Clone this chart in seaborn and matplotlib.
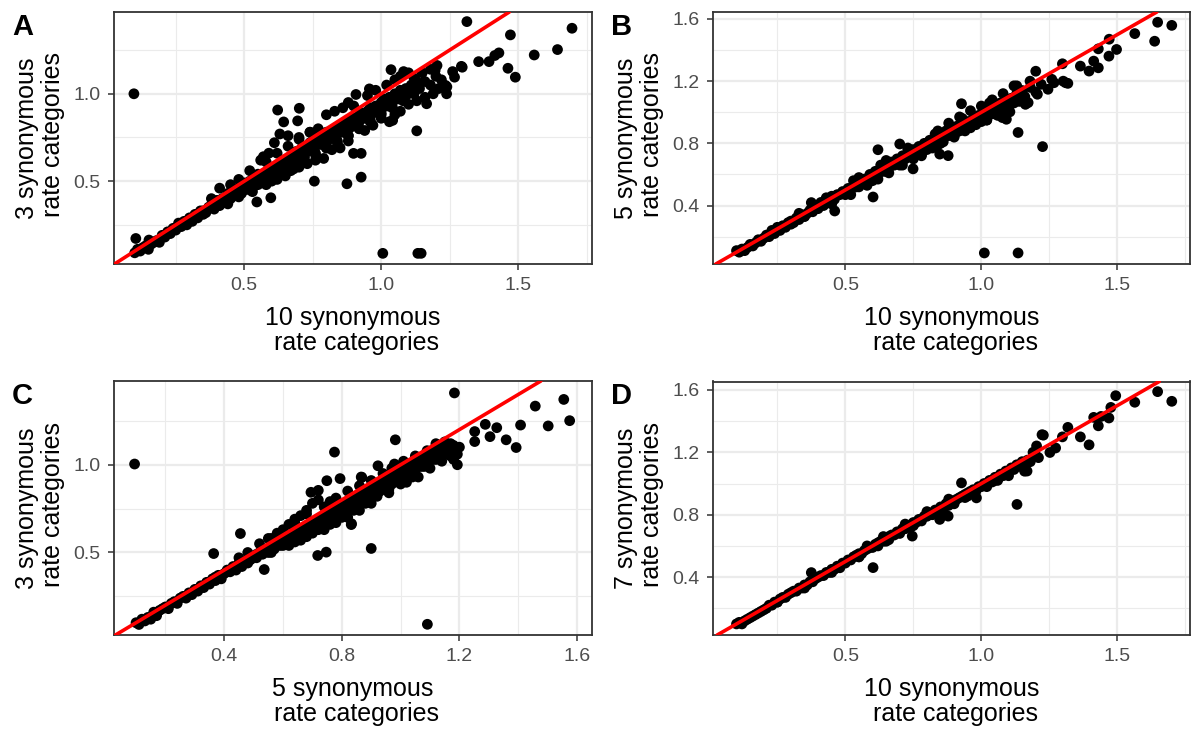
import matplotlib
matplotlib.use("Agg")
import matplotlib.pyplot as plt
import seaborn as sns
import numpy as np
from matplotlib.ticker import MultipleLocator, FormatStrFormatter

# ---------------- data ----------------
# Panel A: x = 10 synonymous rate categories, y = 3 synonymous rate categories
a_band_x = [0.10,0.11,0.12,0.13,0.14,0.15,0.16,0.17,0.18,0.19,
            0.20,0.21,0.22,0.23,0.24,0.25,0.26,0.27,0.28,0.29,
            0.30,0.31,0.32,0.33,0.34,0.35,0.36,0.37,0.38,0.39,
            0.40,0.41,0.42,0.43,0.44,0.45,0.46,0.47,0.48,0.49,
            0.50,0.50,0.51,0.52,0.53,0.54,0.55,0.55,0.56,0.57,
            0.58,0.59,0.60,0.60,0.61,0.62,0.63,0.64,0.64,0.65,
            0.66,0.67,0.68,0.68,0.69,0.70,0.71,0.72,0.72,0.73,
            0.74,0.75,0.76,0.76,0.77,0.78,0.79,0.80,0.80,0.81,
            0.82,0.83,0.84,0.84,0.85,0.86,0.87,0.88,0.88,0.89,
            0.90,0.91,0.92,0.92,0.93,0.94,0.95,0.96,0.96,0.97,
            0.98,0.99,1.00,1.00,1.01,1.02,1.03,1.04,1.05,1.06,
            1.07,1.08,1.09,1.10,1.11,1.12,1.13,1.14,1.16,1.18,
            0.38,0.41,0.45,0.48,0.52,0.56,0.57,0.59,0.61,0.63,
            0.66,0.70,0.74,0.77,0.80,0.83,0.86,0.88,0.90,0.95,
            0.98,1.02,1.05,1.07,1.10,1.12,1.15,1.18,1.20,1.22,
            0.65,0.70,0.73,0.76,0.79,0.82,0.85,0.88,0.94,0.97,
            1.00,1.03,1.05,1.07,1.10,1.13,1.16,1.19,1.21,1.24,
            0.44,0.48,0.53,0.58,0.62,0.67]
a_band_y = [0.09,0.11,0.10,0.12,0.13,0.11,0.14,0.15,0.16,0.15,
            0.19,0.18,0.21,0.20,0.23,0.22,0.26,0.24,0.27,0.25,
            0.29,0.27,0.31,0.29,0.33,0.31,0.32,0.35,0.36,0.34,
            0.39,0.36,0.40,0.38,0.43,0.40,0.44,0.42,0.46,0.43,
            0.49,0.45,0.47,0.50,0.46,0.52,0.48,0.54,0.50,0.53,
            0.55,0.51,0.57,0.53,0.58,0.55,0.60,0.57,0.62,0.59,
            0.63,0.60,0.65,0.61,0.67,0.63,0.69,0.64,0.70,0.67,
            0.72,0.68,0.73,0.70,0.75,0.71,0.76,0.72,0.78,0.74,
            0.79,0.75,0.80,0.77,0.82,0.78,0.84,0.80,0.85,0.81,
            0.86,0.83,0.88,0.84,0.89,0.86,0.90,0.87,0.92,0.89,
            0.93,0.90,0.95,0.91,0.97,0.93,0.98,0.95,1.00,0.97,
            1.02,0.98,1.03,1.00,1.05,1.01,1.06,1.03,1.07,1.05,
            0.40,0.46,0.48,0.51,0.56,0.62,0.64,0.66,0.72,0.77,
            0.76,0.74,0.78,0.80,0.88,0.90,0.92,0.95,0.93,0.99,
            1.02,1.05,1.08,1.10,1.12,1.09,1.12,1.14,1.10,1.08,
            0.53,0.58,0.60,0.62,0.63,0.68,0.69,0.73,0.79,0.82,
            0.86,0.84,0.88,0.90,0.94,0.96,0.98,1.00,1.03,1.04,
            0.37,0.41,0.44,0.48,0.51,0.56]
a_fill_x = [0.35,0.37,0.39,0.41,0.43,0.45,0.47,0.49,0.51,0.53,
            0.55,0.57,0.59,0.61,0.63,0.65,0.67,0.69,0.71,0.73,
            0.75,0.77,0.79,0.81,0.83,0.85,0.87,0.89,0.91,0.93,
            0.95,0.97,0.99,1.01,1.03,1.05,1.07,1.09,1.11,1.13,
            0.52,0.56,0.60,0.64,0.68,0.72,0.76,0.80,0.84,0.88,
            0.92,0.96,1.00,1.04,1.08,1.12,
            0.60,0.64,0.68,0.72,0.76,0.80,0.84,0.88,0.92,0.96,
            1.00,1.04,1.08,0.58,0.62,0.66,0.70,0.74]
a_fill_y = [0.33,0.35,0.37,0.38,0.40,0.42,0.44,0.45,0.48,0.49,
            0.51,0.53,0.55,0.57,0.58,0.61,0.62,0.65,0.66,0.68,
            0.70,0.72,0.74,0.75,0.77,0.79,0.81,0.83,0.85,0.87,
            0.88,0.91,0.93,0.94,0.96,0.99,1.00,1.01,1.04,1.07,
            0.45,0.49,0.52,0.56,0.59,0.62,0.66,0.69,0.73,0.76,
            0.80,0.84,0.88,0.92,0.96,1.00,
            0.50,0.54,0.57,0.61,0.65,0.69,0.72,0.76,0.80,0.85,
            0.89,0.93,0.97,0.61,0.66,0.70,0.75,0.78]
a_out_x = [0.097,1.036,0.622,0.701,0.644,0.695,1.130,0.899,0.927,0.927,
           0.875,0.756,0.597,0.546,1.006,1.134,1.146,0.104,0.152,0.957,
           0.908,1.293,1.313,1.697,1.472,1.559,1.644,1.463,1.490,1.356,
           1.394,1.415,1.430,1.296,1.261,1.268,1.239,1.235,1.204,1.197,
           1.082,1.166,1.042]
a_out_y = [1.000,1.138,0.907,0.917,0.839,0.845,0.788,0.659,0.659,0.523,
           0.485,0.500,0.405,0.381,0.087,0.087,0.087,0.172,0.163,1.028,
           0.996,1.157,1.413,1.375,1.337,1.222,1.253,1.146,1.095,1.184,
           1.184,1.219,1.234,1.152,1.127,1.095,1.000,1.048,1.162,1.133,
           1.127,0.943,0.848]

# Panel B: x = 10 categories, y = 5 categories
b_band_x = [0.10,0.11,0.12,0.13,0.14,0.15,0.16,0.17,0.18,0.19,
            0.20,0.21,0.22,0.23,0.24,0.25,0.26,0.27,0.28,0.29,
            0.30,0.31,0.32,0.33,0.34,0.35,0.36,0.37,0.38,0.39,
            0.40,0.41,0.42,0.43,0.44,0.45,0.46,0.47,0.48,0.49,
            0.50,0.51,0.52,0.53,0.54,0.55,0.56,0.57,0.58,0.59,
            0.60,0.61,0.62,0.63,0.64,0.65,0.66,0.67,0.68,0.69,
            0.70,0.71,0.72,0.73,0.74,0.75,0.76,0.77,0.78,0.79,
            0.80,0.81,0.82,0.83,0.84,0.85,0.86,0.87,0.88,0.89,
            0.90,0.91,0.92,0.93,0.94,0.95,0.96,0.97,0.98,0.99,
            1.00,1.01,1.02,1.03,1.04,1.05,1.06,1.07,1.08,1.09,
            1.10,1.11,1.12,1.13,1.14,1.15,1.16,1.18,1.20,1.22,
            0.45,0.52,0.58,0.62,0.66,0.71,0.75,0.78,0.82,0.86,
            0.90,0.94,0.98,1.02,1.06,1.10,0.55,0.65,0.73,0.84,
            0.88,0.92,0.96,1.00,1.04,1.08,1.12]
b_band_y = [0.11,0.10,0.12,0.11,0.13,0.15,0.14,0.16,0.18,0.17,
            0.19,0.21,0.20,0.24,0.22,0.26,0.24,0.27,0.26,0.29,
            0.30,0.29,0.32,0.31,0.34,0.33,0.35,0.37,0.36,0.40,
            0.39,0.42,0.40,0.44,0.42,0.46,0.44,0.47,0.47,0.49,
            0.48,0.51,0.50,0.53,0.52,0.56,0.54,0.57,0.56,0.60,
            0.58,0.62,0.60,0.64,0.62,0.66,0.64,0.68,0.66,0.70,
            0.68,0.72,0.70,0.74,0.72,0.76,0.74,0.78,0.76,0.80,
            0.78,0.82,0.80,0.84,0.81,0.86,0.83,0.88,0.85,0.90,
            0.87,0.91,0.88,0.93,0.90,0.94,0.92,0.96,0.93,0.98,
            0.96,1.00,0.97,1.02,0.99,1.04,1.01,1.06,1.03,1.07,
            1.04,1.09,1.06,1.12,1.08,1.14,1.10,1.16,1.13,1.18,
            0.41,0.47,0.53,0.57,0.61,0.66,0.70,0.72,0.77,0.81,
            0.85,0.88,0.92,0.95,0.98,1.02,0.58,0.69,0.77,0.88,
            0.93,0.97,1.01,1.04,1.08,1.12,1.17]
b_fill_x = [0.30,0.35,0.40,0.45,0.50,0.55,0.60,0.65,0.70,0.75,
            0.80,0.85,0.90,0.95,1.00,1.05,1.10,1.15,
            0.33,0.43,0.53,0.63,0.73,0.83,0.93,1.03,1.13,
            0.78,0.84,0.90,0.96,1.02,1.08,1.14]
b_fill_y = [0.28,0.33,0.38,0.42,0.47,0.52,0.56,0.62,0.66,0.71,
            0.76,0.80,0.85,0.90,0.94,0.99,1.04,1.09,
            0.35,0.45,0.56,0.66,0.76,0.86,0.96,1.06,1.17,
            0.73,0.79,0.84,0.90,0.95,1.01,1.07]
b_out_x = [1.011,1.135,1.135,1.225,1.200,1.310,0.927,0.602,0.461,0.620,
           0.700,0.847,0.878,0.749,0.375,1.162,1.092,1.648,1.700,1.564,
           1.637,1.497,1.469,1.430,1.413,1.430,1.396,1.364,1.298,1.318,
           1.267,1.245,1.206,1.179,1.259,1.301,1.172,1.105,1.077,1.470]
b_out_y = [0.095,0.095,0.870,0.779,1.264,1.190,1.055,0.455,0.365,0.759,
           0.796,0.731,0.721,0.636,0.419,1.051,0.955,1.579,1.559,1.506,
           1.457,1.404,1.361,1.408,1.329,1.286,1.265,1.297,1.312,1.186,
           1.190,1.148,1.116,1.200,1.212,1.200,1.062,1.003,0.966,1.470]

# Panel C: x = 5 categories, y = 3 categories
c_band_x = [0.10,0.11,0.12,0.13,0.14,0.15,0.16,0.17,0.18,0.19,
            0.20,0.21,0.22,0.23,0.24,0.25,0.26,0.27,0.28,0.29,
            0.30,0.31,0.32,0.33,0.34,0.35,0.36,0.37,0.38,0.39,
            0.40,0.41,0.42,0.43,0.44,0.45,0.46,0.47,0.48,0.49,
            0.50,0.51,0.52,0.53,0.54,0.55,0.56,0.57,0.58,0.59,
            0.60,0.61,0.62,0.63,0.64,0.65,0.66,0.67,0.68,0.69,
            0.70,0.71,0.72,0.73,0.74,0.75,0.76,0.77,0.78,0.79,
            0.80,0.81,0.82,0.83,0.84,0.85,0.86,0.87,0.88,0.89,
            0.90,0.91,0.92,0.93,0.94,0.95,0.96,0.97,0.98,0.99,
            1.00,1.01,1.02,1.03,1.04,1.05,1.06,1.07,1.08,1.09,
            1.10,1.11,1.12,1.13,1.14,1.15,1.16,1.17,1.18,1.19,
            0.55,0.58,0.62,0.64,0.66,0.68,0.70,0.72,0.74,0.76,
            0.78,0.82,0.86,0.90,0.94,0.97,1.01,1.05,1.09,1.12,
            0.62,0.66,0.70,0.74,0.78,0.82,0.86,0.90,0.96,1.02,
            1.06,1.10,1.14,1.18,0.45,0.48,0.52]
c_band_y = [0.10,0.09,0.12,0.11,0.13,0.12,0.16,0.14,0.17,0.18,
            0.19,0.18,0.21,0.22,0.21,0.24,0.25,0.24,0.27,0.26,
            0.29,0.28,0.31,0.30,0.33,0.32,0.35,0.34,0.37,0.35,
            0.38,0.40,0.39,0.42,0.40,0.44,0.42,0.45,0.44,0.47,
            0.48,0.47,0.50,0.49,0.52,0.50,0.53,0.52,0.55,0.54,
            0.57,0.55,0.59,0.57,0.61,0.58,0.63,0.60,0.64,0.62,
            0.67,0.64,0.69,0.66,0.71,0.67,0.73,0.69,0.75,0.71,
            0.77,0.73,0.79,0.75,0.80,0.77,0.82,0.79,0.84,0.81,
            0.86,0.83,0.88,0.85,0.90,0.87,0.92,0.89,0.94,0.91,
            0.96,0.93,0.98,0.95,1.00,0.97,1.02,0.99,1.04,1.01,
            1.06,1.03,1.07,1.05,1.09,1.06,1.10,1.08,1.11,1.07,
            0.58,0.61,0.66,0.69,0.71,0.74,0.78,0.80,0.76,0.79,
            0.81,0.85,0.88,0.91,0.95,0.98,1.02,1.05,1.08,1.12,
            0.54,0.57,0.61,0.63,0.67,0.70,0.74,0.78,0.84,0.90,
            0.93,0.98,1.02,1.03,0.47,0.50,0.55]
c_fill_x = [0.33,0.35,0.37,0.39,0.41,0.43,0.45,0.47,0.49,0.51,
            0.53,0.55,0.57,0.59,0.61,0.63,0.65,0.67,0.69,0.71,
            0.73,0.75,0.77,0.79,0.81,0.83,0.85,0.87,0.89,0.91,
            0.93,0.95,0.97,0.99,1.01,1.03,1.05,1.07,1.09,1.11,
            1.13,1.15,1.17,
            0.56,0.60,0.64,0.68,0.72,0.76,0.80,0.84,0.88,0.92,
            0.96,1.00,1.04,1.08,1.12,1.16,
            0.64,0.68,0.72,0.76,0.80,0.84,0.88,0.92,0.96,1.00,
            1.04,0.56,0.60,0.64,0.68]
c_fill_y = [0.31,0.33,0.36,0.37,0.39,0.41,0.43,0.45,0.46,0.49,
            0.50,0.52,0.55,0.56,0.58,0.60,0.62,0.64,0.66,0.68,
            0.69,0.72,0.73,0.75,0.77,0.79,0.81,0.83,0.85,0.87,
            0.89,0.91,0.93,0.95,0.97,0.99,1.01,1.03,1.05,1.07,
            1.09,1.11,1.12,
            0.50,0.54,0.58,0.61,0.65,0.68,0.72,0.76,0.79,0.83,
            0.87,0.91,0.95,0.99,1.03,1.06,
            0.56,0.59,0.63,0.66,0.70,0.74,0.78,0.82,0.86,0.89,
            0.93,0.58,0.63,0.67,0.72]
c_out_x = [0.095,0.775,0.982,1.091,0.900,0.718,0.747,0.455,0.364,0.536,
           0.832,0.749,0.794,0.866,0.923,0.695,0.720,1.193,1.183,1.555,
           1.458,1.575,1.502,1.408,1.327,1.288,1.252,1.304,1.359,1.393,
           1.252,1.193,0.979,0.833,0.868,1.150,1.200,1.170]
c_out_y = [1.004,1.072,1.142,0.091,0.523,0.483,0.502,0.608,0.494,0.403,
           0.659,0.909,0.921,0.930,0.994,0.843,0.854,1.000,1.409,1.372,
           1.334,1.251,1.221,1.226,1.211,1.230,1.189,1.160,1.142,1.098,
           1.132,1.060,1.004,0.664,0.928,1.130,1.100,1.050]

# Panel D: x = 10 categories, y = 7 categories
d_band_x = [0.10,0.11,0.12,0.13,0.14,0.15,0.16,0.17,0.18,0.19,
            0.20,0.21,0.22,0.23,0.24,0.25,0.26,0.27,0.28,0.29,
            0.30,0.31,0.32,0.33,0.34,0.35,0.36,0.37,0.38,0.39,
            0.40,0.41,0.42,0.43,0.44,0.45,0.46,0.47,0.48,0.49,
            0.50,0.51,0.52,0.53,0.54,0.55,0.56,0.57,0.58,0.59,
            0.60,0.61,0.62,0.63,0.64,0.65,0.66,0.67,0.68,0.69,
            0.70,0.71,0.72,0.73,0.74,0.75,0.76,0.77,0.78,0.79,
            0.80,0.81,0.82,0.83,0.84,0.85,0.86,0.87,0.88,0.89,
            0.90,0.91,0.92,0.93,0.94,0.95,0.96,0.97,0.98,0.99,
            1.00,1.01,1.02,1.03,1.04,1.05,1.06,1.07,1.08,1.09,
            1.10,1.11,1.12,1.13,1.14,1.15,1.16,1.17,1.18,1.20,
            0.48,0.55,0.62,0.66,0.70,0.74,0.78,0.82,0.86,0.90,
            0.94,0.98,1.02,1.06,1.10,0.58,0.64,0.72,0.80,0.88]
d_band_y = [0.10,0.11,0.10,0.12,0.13,0.14,0.15,0.16,0.17,0.18,
            0.19,0.20,0.22,0.22,0.24,0.24,0.26,0.27,0.27,0.29,
            0.30,0.31,0.31,0.33,0.33,0.35,0.35,0.37,0.37,0.39,
            0.40,0.41,0.41,0.43,0.43,0.45,0.45,0.47,0.47,0.49,
            0.49,0.51,0.51,0.53,0.54,0.55,0.55,0.57,0.58,0.59,
            0.59,0.61,0.62,0.63,0.63,0.65,0.66,0.67,0.67,0.69,
            0.69,0.71,0.71,0.73,0.73,0.75,0.75,0.77,0.77,0.79,
            0.79,0.81,0.81,0.83,0.83,0.85,0.84,0.87,0.86,0.89,
            0.88,0.90,0.91,0.92,0.93,0.94,0.95,0.96,0.96,0.98,
            0.98,1.00,0.99,1.02,1.01,1.04,1.03,1.06,1.05,1.08,
            1.07,1.10,1.09,1.12,1.11,1.14,1.12,1.15,1.14,1.18,
            0.46,0.53,0.60,0.64,0.68,0.72,0.76,0.80,0.83,0.87,
            0.91,0.95,0.98,1.02,1.05,0.60,0.66,0.74,0.82,0.90]
d_fill_x = [0.25,0.35,0.45,0.55,0.65,0.75,0.85,0.95,1.05,1.15]
d_fill_y = [0.24,0.33,0.43,0.53,0.63,0.73,0.83,0.92,1.02,1.12]
d_out_x = [1.131,0.602,0.375,0.927,0.982,0.746,0.847,0.878,1.223,1.159,
           1.648,1.700,1.564,1.494,1.476,1.469,1.430,1.413,1.364,1.396,
           1.318,1.298,1.228,1.273,1.252,1.203,1.210,1.168,1.440,1.190]
d_out_y = [0.866,0.461,0.429,1.004,0.908,0.663,0.770,0.791,1.313,1.079,
           1.589,1.527,1.521,1.563,1.488,1.420,1.370,1.424,1.299,1.248,
           1.360,1.299,1.310,1.228,1.199,1.241,1.166,1.080,1.430,1.200]

labels = ["A", "B", "C", "D"]
x_titles = ["10 synonymous\n rate categories", "10 synonymous\n rate categories",
            "5 synonymous\n rate categories", "10 synonymous\n rate categories"]
y_titles = ["3 synonymous\n rate categories", "5 synonymous\n rate categories",
            "3 synonymous\n rate categories", "7 synonymous\n rate categories"]

# ---------------- figure ----------------
sns.set_theme(style="white")
plt.rcParams["font.family"] = ["Liberation Sans", "DejaVu Sans"]

W, H = 1193, 729
fig = plt.figure(figsize=(W / 100, H / 100), dpi=100)
fig.patch.set_facecolor("white")

def px_axes(l, t, r, b):
    return fig.add_axes([l / W, 1 - b / H, (r - l) / W, (b - t) / H])

panels = [
    dict(box=(114, 12, 592, 264), x=a_band_x + a_fill_x + a_out_x, y=a_band_y + a_fill_y + a_out_y,
         xlim=(0.0243, 1.770), ylim=(0.026, 1.468), xmaj=0.5, ymaj=0.5),
    dict(box=(713, 12, 1190, 264), x=b_band_x + b_fill_x + b_out_x, y=b_band_y + b_fill_y + b_out_y,
         xlim=(0.0136, 1.767), ylim=(0.024, 1.645), xmaj=0.5, ymaj=0.4),
    dict(box=(114, 381, 592, 635), x=c_band_x + c_fill_x + c_out_x, y=c_band_y + c_fill_y + c_out_y,
         xlim=(0.025, 1.651), ylim=(0.030, 1.477), xmaj=0.4, ymaj=0.5),
    dict(box=(713, 381.5, 1190, 635), x=d_band_x + d_fill_x + d_out_x, y=d_band_y + d_fill_y + d_out_y,
         xlim=(0.0136, 1.767), ylim=(0.029, 1.654), xmaj=0.5, ymaj=0.4),
]

for i, p in enumerate(panels):
    ax = px_axes(*p["box"])
    ax.set_facecolor("white")
    ax.set_axisbelow(True)
    sns.scatterplot(x=p["x"], y=p["y"], ax=ax, color="black", s=60,
                    linewidth=0, edgecolor="none", zorder=3)
    ax.axline((0, 0), slope=1, color="#FF0000", lw=2.6, zorder=4)
    ax.set_xlim(*p["xlim"])
    ax.set_ylim(*p["ylim"])
    ax.xaxis.set_major_locator(MultipleLocator(p["xmaj"]))
    ax.yaxis.set_major_locator(MultipleLocator(p["ymaj"]))
    ax.xaxis.set_minor_locator(MultipleLocator(p["xmaj"] / 2))
    ax.yaxis.set_minor_locator(MultipleLocator(p["ymaj"] / 2))
    ax.xaxis.set_major_formatter(FormatStrFormatter("%.1f"))
    ax.yaxis.set_major_formatter(FormatStrFormatter("%.1f"))
    ax.grid(True, which="major", color="#EBEBEB", lw=1.6)
    ax.grid(True, which="minor", color="#EBEBEB", lw=0.8)
    for sp in ax.spines.values():
        sp.set_color("#333333")
        sp.set_linewidth(1.3)
        sp.set_visible(True)
    ax.tick_params(which="major", direction="out", length=4.2, width=1.1,
                   color="#333333", labelsize=14, labelcolor="#4D4D4D", pad=5.5,
                   bottom=True, left=True)
    ax.tick_params(which="minor", length=0)
    ax.set_xlabel(x_titles[i], fontsize=18, color="black", labelpad=8, linespacing=1.08)
    ax.set_ylabel(y_titles[i], fontsize=18, color="black", labelpad=6, linespacing=1.12)
    l, t, r, b = p["box"]
    fig.text((l - 102) / W, 1 - (t + 1) / H, labels[i], fontsize=21,
             fontweight="bold", ha="left", va="top", color="black")

fig.savefig("out.png", dpi=100, facecolor="white")
